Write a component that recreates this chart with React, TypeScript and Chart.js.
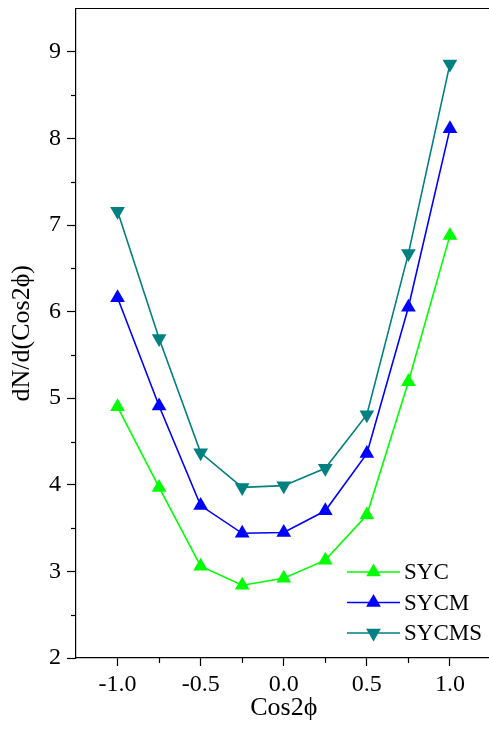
import React, { useEffect, useRef } from 'react';
import { Chart, registerables } from 'chart.js';

Chart.register(...registerables);

const xValues = [-1, -0.75, -0.5, -0.25, 0, 0.25, 0.5, 0.75, 1];
const sycValues = [4.9, 3.97, 3.06, 2.84, 2.92, 3.13, 3.65, 5.19, 6.88];
const sycmValues = [6.16, 4.91, 3.76, 3.44, 3.45, 3.7, 4.36, 6.05, 8.11];
const sycmsValues = [7.16, 5.69, 4.37, 3.97, 3.99, 4.19, 4.81, 6.67, 8.86];

const seriesNames = ['SYC', 'SYCM', 'SYCMS'];
const seriesColors = ['#00ff00', '#0000ff', '#008080'];

const xTickValues = [-1, -0.5, 0, 0.5, 1];
const xMinorTickValues = [-0.75, -0.25, 0.25, 0.75];
const yTickValues = [2, 3, 4, 5, 6, 7, 8, 9];
const yMinorTickValues = [2.5, 3.5, 4.5, 5.5, 6.5, 7.5, 8.5];

const FONT = '"Liberation Serif", "Times New Roman", serif';

function drawTri(ctx: CanvasRenderingContext2D, x: number, y: number, r: number, down: boolean) {
  const s = down ? -1 : 1;
  ctx.beginPath();
  ctx.moveTo(x, y - s * r);
  ctx.lineTo(x + r * Math.sin((2 * Math.PI) / 3), y + (s * r) / 2);
  ctx.lineTo(x - r * Math.sin((2 * Math.PI) / 3), y + (s * r) / 2);
  ctx.closePath();
  ctx.fill();
}

const decorPlugin = {
  id: 'decor',
  afterDraw(chart: any) {
    const { ctx, chartArea, scales } = chart;
    ctx.save();
    ctx.strokeStyle = '#000';
    ctx.lineWidth = 1.2;
    ctx.beginPath();
    ctx.moveTo(chartArea.left, chartArea.top);
    ctx.lineTo(chartArea.right, chartArea.top);
    ctx.stroke();
    xMinorTickValues.forEach((v) => {
      const px = Math.round(scales.x.getPixelForValue(v)) + 0.5;
      ctx.beginPath();
      ctx.moveTo(px, chartArea.bottom);
      ctx.lineTo(px, chartArea.bottom + 5);
      ctx.stroke();
    });
    yMinorTickValues.forEach((v) => {
      const py = Math.round(scales.y.getPixelForValue(v)) + 0.5;
      ctx.beginPath();
      ctx.moveTo(chartArea.left - 5, py);
      ctx.lineTo(chartArea.left, py);
      ctx.stroke();
    });
    // legend
    const lx0 = 347;
    const lx1 = 400;
    const ly0 = 572;
    const dy = 30.5;
    ctx.font = `23px ${FONT}`;
    ctx.textBaseline = 'middle';
    ctx.textAlign = 'left';
    chart.data.datasets.forEach((ds: any, i: number) => {
      const y = ly0 + dy * i;
      ctx.strokeStyle = ds.borderColor;
      ctx.lineWidth = 1.6;
      ctx.beginPath();
      ctx.moveTo(lx0, y);
      ctx.lineTo(lx1, y);
      ctx.stroke();
      ctx.fillStyle = ds.borderColor;
      drawTri(ctx, (lx0 + lx1) / 2, y, 8.5, ds.pointRotation === 180);
      ctx.fillStyle = '#000';
      ctx.fillText(ds.label, 404, y + 1);
    });
    ctx.restore();
  },
};

export default function App() {
  const ref = useRef<HTMLCanvasElement | null>(null);
  useEffect(() => {
    if (!ref.current) return;
    const values = [sycValues, sycmValues, sycmsValues];
    const chart = new Chart(ref.current, {
      type: 'line',
      data: {
        datasets: values.map((vals, i) => ({
          label: seriesNames[i],
          data: vals.map((v, j) => ({ x: xValues[j], y: v })),
          borderColor: seriesColors[i],
          backgroundColor: seriesColors[i],
          borderWidth: 1.6,
          pointStyle: 'triangle',
          pointRotation: i === 2 ? 180 : 0,
          pointRadius: 8.5,
          pointBorderWidth: 0,
          pointBackgroundColor: seriesColors[i],
          tension: 0,
        })),
      },
      options: {
        animation: false,
        responsive: true,
        maintainAspectRatio: false,
        layout: { padding: { top: 7, right: 7.5, left: 0, bottom: 0 } },
        plugins: { legend: { display: false }, tooltip: { enabled: false } },
        scales: {
          x: {
            type: 'linear',
            min: -1.25,
            max: 1.25,
            afterBuildTicks: (s: any) => {
              s.ticks = xTickValues.map((v) => ({ value: v }));
            },
            afterFit: (s: any) => {
              s.height = 73;
            },
            ticks: {
              color: '#000',
              font: { family: FONT, size: 24 },
              padding: 4,
              maxRotation: 0,
              autoSkip: false,
              callback: (v: any) => Number(v).toFixed(1),
            },
            grid: { drawOnChartArea: false, drawTicks: true, tickLength: 8, tickColor: '#000', tickWidth: 1.2 },
            border: { display: true, color: '#000', width: 1.2 },
            title: { display: true, text: 'Cos2ϕ', color: '#000', font: { family: FONT, size: 26 }, padding: { top: 0, bottom: 7 } },
          },
          y: {
            type: 'linear',
            min: 2,
            max: 9.5,
            afterBuildTicks: (s: any) => {
              s.ticks = yTickValues.map((v) => ({ value: v }));
            },
            afterFit: (s: any) => {
              s.width = 76;
              s.paddingTop = 0;
              s.paddingBottom = 0;
            },
            ticks: {
              color: '#000',
              font: { family: FONT, size: 24 },
              padding: 6,
              autoSkip: false,
              callback: (v: any) => String(v),
            },
            grid: { drawOnChartArea: false, drawTicks: true, tickLength: 9, tickColor: '#000', tickWidth: 1.2 },
            border: { display: true, color: '#000', width: 1.2 },
            title: { display: true, text: 'dN/d(Cos2ϕ)', color: '#000', font: { family: FONT, size: 26 }, padding: { top: 7, bottom: 0 } },
          },
        },
      },
      plugins: [decorPlugin],
    } as any);
    return () => chart.destroy();
  }, []);
  return (
    <div style={{ position: 'absolute', left: 0, top: 0, width: 489, height: 731, overflow: 'hidden', background: '#fff' }}>
      <div style={{ position: 'absolute', left: 0, top: 0, width: 500, height: 731 }}>
        <canvas ref={ref} />
      </div>
    </div>
  );
}
